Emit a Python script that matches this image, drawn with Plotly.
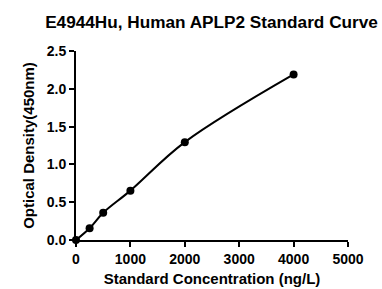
import plotly.graph_objects as go

conc = [0, 250, 500, 1000, 2000, 4000]
od = [0.0, 0.155, 0.36, 0.653, 1.294, 2.19]
x_ticks = [0, 1000, 2000, 3000, 4000, 5000]
y_ticks = [0.0, 0.5, 1.0, 1.5, 2.0, 2.5]

fnt = "Liberation Sans, Arial, sans-serif"

fig = go.Figure()
fig.add_trace(go.Scatter(
    x=conc, y=od, mode="lines+markers",
    line=dict(color="black", width=2, shape="spline", smoothing=1.0),
    marker=dict(color="black", size=8),
    cliponaxis=False, showlegend=False,
))

fig.update_layout(
    width=382, height=289,
    margin=dict(l=76, r=34, t=51, b=49),
    paper_bgcolor="white", plot_bgcolor="white",
    font=dict(family=fnt, color="black"),
    title=dict(text="<b>E4944Hu, Human APLP2 Standard Curve</b>",
               font=dict(size=17.2, family=fnt, color="black"),
               x=211.5 / 382, xanchor="center", xref="container",
               y=1 - 21.5 / 289, yanchor="middle", yref="container"),
)
fig.update_xaxes(
    range=[0, 5000], tickvals=x_ticks,
    ticktext=[f"<b>{v}</b>" for v in x_ticks],
    showline=True, linecolor="black", linewidth=2,
    ticks="outside", ticklen=5, tickwidth=2, tickcolor="black",
    showgrid=False, zeroline=False, automargin=False,
    tickfont=dict(size=14, family=fnt, color="black"),
    title=dict(text="<b>Standard Concentration (ng/L)</b>",
               font=dict(size=15, family=fnt, color="black"), standoff=8),
)
fig.update_yaxes(
    range=[0, 2.5], tickvals=y_ticks,
    ticktext=[f"<b>{v:.1f}</b>" for v in y_ticks],
    showline=True, linecolor="black", linewidth=2,
    ticks="outside", ticklen=5, tickwidth=2, tickcolor="black",
    showgrid=False, zeroline=False, automargin=False,
    tickfont=dict(size=14, family=fnt, color="black"),
    title=dict(text="<b>Optical Density(450nm)</b>",
               font=dict(size=15, family=fnt, color="black"), standoff=8),
)

fig.write_html(
    "out.html",
    config={"displayModeBar": False},
    post_script="document.body.style.margin='0';document.body.style.padding='0';",
)
